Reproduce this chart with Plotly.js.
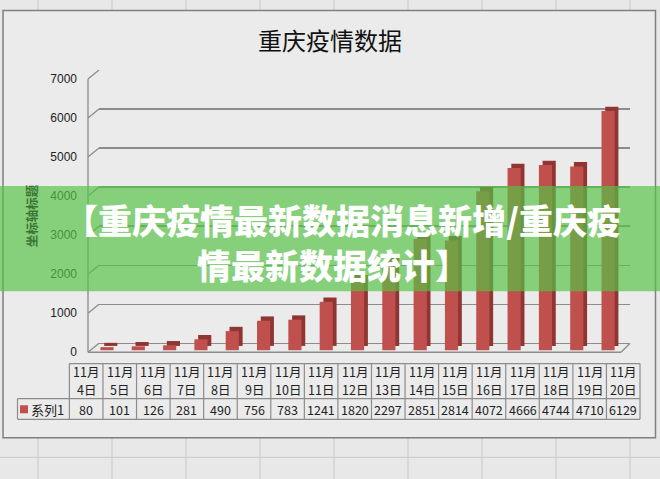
<!DOCTYPE html>
<html>
<head>
<meta charset="utf-8">
<script src="https://cdn.plot.ly/plotly-3.0.1.min.js"></script>
<style>
html,body{margin:0;padding:0;background:#e8e8e8;}
#chart{width:660px;height:479px;}
</style>
</head>
<body>
<div id="chart"></div>
<script>
// ---- data ----
const categories = ['11月4日','11月5日','11月6日','11月7日','11月8日','11月9日','11月10日','11月11日','11月12日','11月13日','11月14日','11月15日','11月16日','11月17日','11月18日','11月19日','11月20日'];
const values = [80,101,126,281,490,756,783,1241,1820,2297,2851,2814,4072,4666,4744,4710,6129];
const yTicks = [0,1000,2000,3000,4000,5000,6000,7000];
const seriesName = '系列1';
const chartTitle = '重庆疫情数据';
const yTitle = '坐标轴标题';
const bannerLines = ['【重庆疫情最新数据消息新增/重庆疫','情最新数据统计】'];

// ---- geometry helpers (pixels -> paper) ----
const W = 660, H = 479;
const L = 99, R = 630, T = 70, B = 352.75;
const px = x => (x - L) / (R - L);
const py = y => (B - y) / (B - T);
const unitPerPx = 1000 / 39;
const frontDrop = 9 * unitPerPx; // front wall is 9px lower than back wall

const gridCol = '#8c8c8c';
const barFront = '#c0504d';
const barSide = '#8f3633';

const shapes = [];
// spreadsheet cell grid behind the chart
[38,112,186,260,334,408,482,556,630].forEach(x => shapes.push({type:'line', xref:'paper', yref:'paper', x0:px(x), x1:px(x), y0:py(0), y1:py(H), line:{color:'#c8c8d0', width:1}, layer:'below'}));
[457,480].forEach(y => shapes.push({type:'line', xref:'paper', yref:'paper', x0:px(0), x1:px(W), y0:py(y), y1:py(y), line:{color:'#c8c8d0', width:1}, layer:'below'}));
// chart area
shapes.push({type:'rect', xref:'paper', yref:'paper', x0:px(3), x1:px(655.5), y0:py(437.5), y1:py(10.5), fillcolor:'#ebebeb', line:{color:'#7f7f7f', width:1.5}, layer:'below'});
// left wall front edge and diagonals
const xFront = px(88);
shapes.push({type:'line', xref:'paper', yref:'y', x0:xFront, x1:xFront, y0:-frontDrop, y1:yTicks[yTicks.length-1]-frontDrop, line:{color:gridCol, width:1.3}, layer:'below'});
yTicks.forEach(v => shapes.push({type:'line', xref:'paper', yref:'y', x0:xFront, x1:0, y0:v-frontDrop, y1:v, line:{color:gridCol, width:1.3}, layer:'below'}));
// floor front edge and right diagonal
shapes.push({type:'line', xref:'paper', yref:'y', x0:xFront, x1:px(621), y0:-frontDrop, y1:-frontDrop, line:{color:gridCol, width:1.3}, layer:'below'});
shapes.push({type:'line', xref:'paper', yref:'y', x0:px(621), x1:1, y0:-frontDrop, y1:0, line:{color:gridCol, width:1.3}, layer:'below'});

// data table
const tblL = 17.5, tblC = 69.4, tblR = 640, tblT = 363.3, tblM = 398.3, tblB = 419;
const colW = (tblR - tblC) / categories.length;
const tl = {color:'#8c8c8c', width:1.2};
shapes.push({type:'line', xref:'paper', yref:'paper', x0:px(tblC), x1:px(tblR), y0:py(tblT), y1:py(tblT), line:tl});
shapes.push({type:'line', xref:'paper', yref:'paper', x0:px(tblL), x1:px(tblR), y0:py(tblM), y1:py(tblM), line:tl});
shapes.push({type:'line', xref:'paper', yref:'paper', x0:px(tblL), x1:px(tblR), y0:py(tblB), y1:py(tblB), line:tl});
shapes.push({type:'line', xref:'paper', yref:'paper', x0:px(tblL), x1:px(tblL), y0:py(tblM), y1:py(tblB), line:tl});
for (let i = 0; i <= categories.length; i++) {
  const x = tblC + i * colW;
  shapes.push({type:'line', xref:'paper', yref:'paper', x0:px(x), x1:px(x), y0:py(tblT), y1:py(tblB), line:tl});
}
// legend key square
shapes.push({type:'rect', xref:'paper', yref:'paper', x0:px(20), x1:px(28), y0:py(413), y1:py(405), fillcolor:barFront, line:{width:0}});

// banner overlay
shapes.push({type:'rect', xref:'paper', yref:'paper', x0:px(0), x1:px(W), y0:py(291), y1:py(186), fillcolor:'rgba(86,195,69,0.68)', line:{width:0}, layer:'above'});

const cjk = '"Noto Sans CJK SC", "Noto Sans", sans-serif';
const annotations = [];
categories.forEach((c, i) => {
  const cx = tblC + colW * (i + 0.5);
  const parts = c.split('月');
  annotations.push({xref:'paper', yref:'paper', x:px(cx), y:py(371.5), text:parts[0] + '月', showarrow:false, borderpad:0, font:{family:cjk, size:12.5, color:'#222'}, xanchor:'center', yanchor:'middle'});
  annotations.push({xref:'paper', yref:'paper', x:px(cx), y:py(389.5), text:parts[1], showarrow:false, borderpad:0, font:{family:cjk, size:12.5, color:'#222'}, xanchor:'center', yanchor:'middle'});
  annotations.push({xref:'paper', yref:'paper', x:px(cx), y:py(409), text:String(values[i]), showarrow:false, borderpad:0, font:{family:cjk, size:12.5, color:'#222'}, xanchor:'center', yanchor:'middle'});
});
annotations.push({xref:'paper', yref:'paper', x:px(30), y:py(409), text:seriesName, showarrow:false, borderpad:0, font:{family:cjk, size:13, color:'#222'}, xanchor:'left', yanchor:'middle'});
// y axis title (under the banner tint)
annotations.push({xref:'paper', yref:'paper', x:px(31), y:py(216), text:yTitle, textangle:-90, showarrow:false, font:{family:cjk, size:12.5, color:'#3a7532', weight:'bold'}, xanchor:'center', yanchor:'middle'});
// banner text
annotations.push({xref:'paper', yref:'paper', x:px(342), y:py(219), text:bannerLines[0], showarrow:false, borderpad:0, font:{family:cjk, size:34, color:'#ffffff', weight:900}, xanchor:'center', yanchor:'middle'});
annotations.push({xref:'paper', yref:'paper', x:px(333), y:py(264), text:bannerLines[1], showarrow:false, borderpad:0, font:{family:cjk, size:34, color:'#ffffff', weight:900}, xanchor:'center', yanchor:'middle'});

const barW = 0.42;
const depthX = 0.12;
const depthY = 4.3 * unitPerPx;
const frontBase = -7 * unitPerPx;
const traces = [
  {type:'bar', x:categories, y:values, base:frontBase + depthY, width:barW, offset:-barW/2 + depthX, marker:{color:barSide, line:{width:0}}, hoverinfo:'skip', showlegend:false},
  {type:'bar', x:categories, y:values, base:frontBase, width:barW, offset:-barW/2, name:seriesName, marker:{color:barFront, line:{width:0}}, showlegend:false}
];

const layout = {
  width:W, height:H,
  margin:{l:L, r:W-R, t:T, b:H-B, pad:0},
  paper_bgcolor:'#e8e8e8',
  plot_bgcolor:'rgba(0,0,0,0)',
  barmode:'overlay',
  title:{text:chartTitle, font:{family:cjk, size:24, color:'#111'}, x:0.5, xref:'container', xanchor:'center', y:1-42/H, yref:'container', yanchor:'middle'},
  xaxis:{type:'category', range:[-0.256, 16.7], showticklabels:false, showgrid:false, zeroline:false, showline:false, ticks:''},
  yaxis:{range:[-250, 7000], tickvals:yTicks, ticktext:yTicks.map(String), showgrid:true, gridcolor:gridCol, gridwidth:1.3, zeroline:false, showline:false, ticks:'', tickfont:{family:'"Liberation Sans", Arial, sans-serif', size:12, color:'#222'}, ticklabelshift:9, ticklabelstandoff:21},
  shapes:shapes,
  annotations:annotations
};

Plotly.newPlot('chart', traces, layout, {displayModeBar:false, staticPlot:true});
</script>
</body>
</html>
